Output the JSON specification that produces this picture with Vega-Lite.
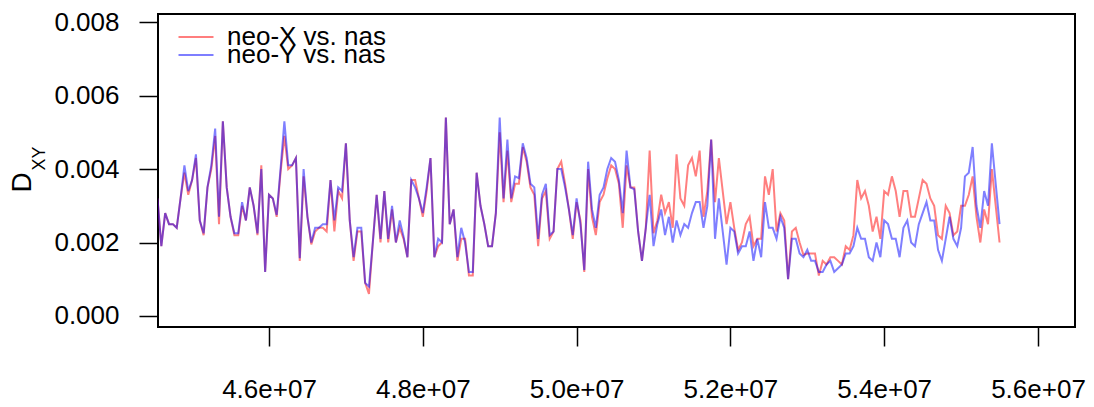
{
  "$schema": "https://vega.github.io/schema/vega-lite/v6.json",
  "width": 917,
  "height": 313,
  "autosize": {"type": "none"},
  "padding": {"left": 158, "top": 14, "right": 19, "bottom": 80},
  "background": "white",
  "config": {
    "font": "Liberation Sans",
    "view": {"stroke": "black", "strokeWidth": 2},
    "axis": {"tickColor": "black", "labelColor": "black", "titleColor": "black", "tickWidth": 1.5, "grid": false, "domain": false, "titleFontWeight": "normal"},
    "legend": {"orient": "none", "direction": "vertical", "title": null, "symbolType": "M-3,0H3", "symbolSize": 136, "symbolStrokeWidth": 2, "symbolOpacity": 0.5, "labelFontSize": 26, "labelOffset": 18, "padding": 0, "labelColor": "black", "labelLimit": 0}
  },
  "data": {"values": [
    {"pos":44550000,"dX":0.0032,"dY":0.0032},
    {"pos":44600000,"dX":0.0019,"dY":0.0019},
    {"pos":44650000,"dX":0.0028,"dY":0.0028},
    {"pos":44700000,"dX":0.0025,"dY":0.0025},
    {"pos":44750000,"dX":0.0025,"dY":0.0025},
    {"pos":44800000,"dX":0.0024,"dY":0.0024},
    {"pos":44850000,"dX":0.0032,"dY":0.0032},
    {"pos":44900000,"dX":0.0039,"dY":0.0041},
    {"pos":44950000,"dX":0.0033,"dY":0.0034},
    {"pos":45000000,"dX":0.0037,"dY":0.0037},
    {"pos":45050000,"dX":0.0043,"dY":0.0044},
    {"pos":45100000,"dX":0.0026,"dY":0.0026},
    {"pos":45150000,"dX":0.0022,"dY":0.00225},
    {"pos":45200000,"dX":0.0035,"dY":0.0035},
    {"pos":45250000,"dX":0.0040,"dY":0.0041},
    {"pos":45300000,"dX":0.0049,"dY":0.0051},
    {"pos":45350000,"dX":0.0025,"dY":0.0027},
    {"pos":45400000,"dX":0.0053,"dY":0.0053},
    {"pos":45450000,"dX":0.0035,"dY":0.0035},
    {"pos":45500000,"dX":0.0027,"dY":0.0027},
    {"pos":45550000,"dX":0.0022,"dY":0.00225},
    {"pos":45600000,"dX":0.0022,"dY":0.00225},
    {"pos":45650000,"dX":0.0030,"dY":0.0031},
    {"pos":45700000,"dX":0.0026,"dY":0.0026},
    {"pos":45750000,"dX":0.0035,"dY":0.0035},
    {"pos":45800000,"dX":0.0030,"dY":0.0030},
    {"pos":45850000,"dX":0.0022,"dY":0.00225},
    {"pos":45900000,"dX":0.0041,"dY":0.0040},
    {"pos":45950000,"dX":0.0012,"dY":0.0012},
    {"pos":46000000,"dX":0.0033,"dY":0.0033},
    {"pos":46050000,"dX":0.0032,"dY":0.0032},
    {"pos":46100000,"dX":0.0027,"dY":0.00275},
    {"pos":46150000,"dX":0.0039,"dY":0.0040},
    {"pos":46200000,"dX":0.0049,"dY":0.0053},
    {"pos":46250000,"dX":0.0040,"dY":0.0041},
    {"pos":46300000,"dX":0.0041,"dY":0.0041},
    {"pos":46350000,"dX":0.0043,"dY":0.0043},
    {"pos":46400000,"dX":0.0015,"dY":0.00157},
    {"pos":46450000,"dX":0.0038,"dY":0.0040},
    {"pos":46500000,"dX":0.0027,"dY":0.0027},
    {"pos":46550000,"dX":0.00195,"dY":0.0020},
    {"pos":46600000,"dX":0.0023,"dY":0.0024},
    {"pos":46650000,"dX":0.0024,"dY":0.0024},
    {"pos":46700000,"dX":0.0024,"dY":0.0025},
    {"pos":46750000,"dX":0.0023,"dY":0.0025},
    {"pos":46800000,"dX":0.0037,"dY":0.0037},
    {"pos":46850000,"dX":0.0023,"dY":0.0026},
    {"pos":46900000,"dX":0.0034,"dY":0.0035},
    {"pos":46950000,"dX":0.0032,"dY":0.0034},
    {"pos":47000000,"dX":0.0047,"dY":0.0047},
    {"pos":47050000,"dX":0.0026,"dY":0.0026},
    {"pos":47100000,"dX":0.0015,"dY":0.0016},
    {"pos":47150000,"dX":0.0023,"dY":0.0024},
    {"pos":47200000,"dX":0.0023,"dY":0.0024},
    {"pos":47250000,"dX":0.0009,"dY":0.0009},
    {"pos":47300000,"dX":0.0006,"dY":0.0008},
    {"pos":47350000,"dX":0.0020,"dY":0.0020},
    {"pos":47400000,"dX":0.0033,"dY":0.0033},
    {"pos":47450000,"dX":0.0020,"dY":0.0021},
    {"pos":47500000,"dX":0.0034,"dY":0.0034},
    {"pos":47550000,"dX":0.0020,"dY":0.0021},
    {"pos":47600000,"dX":0.0029,"dY":0.0030},
    {"pos":47650000,"dX":0.0020,"dY":0.0020},
    {"pos":47700000,"dX":0.0024,"dY":0.0026},
    {"pos":47750000,"dX":0.0021,"dY":0.00216},
    {"pos":47800000,"dX":0.0016,"dY":0.0016},
    {"pos":47850000,"dX":0.0037,"dY":0.0037},
    {"pos":47900000,"dX":0.0037,"dY":0.0035},
    {"pos":47950000,"dX":0.0032,"dY":0.0032},
    {"pos":48000000,"dX":0.0027,"dY":0.0028},
    {"pos":48050000,"dX":0.0034,"dY":0.0035},
    {"pos":48100000,"dX":0.0043,"dY":0.0043},
    {"pos":48150000,"dX":0.0016,"dY":0.0016},
    {"pos":48200000,"dX":0.0019,"dY":0.0021},
    {"pos":48250000,"dX":0.0020,"dY":0.0020},
    {"pos":48300000,"dX":0.0054,"dY":0.0054},
    {"pos":48350000,"dX":0.0025,"dY":0.0025},
    {"pos":48400000,"dX":0.0029,"dY":0.0029},
    {"pos":48450000,"dX":0.0015,"dY":0.0016},
    {"pos":48500000,"dX":0.0021,"dY":0.0024},
    {"pos":48550000,"dX":0.0021,"dY":0.0020},
    {"pos":48600000,"dX":0.0011,"dY":0.0012},
    {"pos":48650000,"dX":0.0011,"dY":0.0012},
    {"pos":48700000,"dX":0.0039,"dY":0.0039},
    {"pos":48750000,"dX":0.0030,"dY":0.0030},
    {"pos":48800000,"dX":0.0025,"dY":0.0025},
    {"pos":48850000,"dX":0.0019,"dY":0.0019},
    {"pos":48900000,"dX":0.0019,"dY":0.0019},
    {"pos":48950000,"dX":0.0028,"dY":0.0028},
    {"pos":49000000,"dX":0.0050,"dY":0.0054},
    {"pos":49050000,"dX":0.0031,"dY":0.0032},
    {"pos":49100000,"dX":0.0045,"dY":0.0048},
    {"pos":49150000,"dX":0.0031,"dY":0.0032},
    {"pos":49200000,"dX":0.0036,"dY":0.0038},
    {"pos":49250000,"dX":0.0036,"dY":0.00375},
    {"pos":49300000,"dX":0.0046,"dY":0.0047},
    {"pos":49350000,"dX":0.0042,"dY":0.0043},
    {"pos":49400000,"dX":0.0035,"dY":0.0036},
    {"pos":49450000,"dX":0.0033,"dY":0.0035},
    {"pos":49500000,"dX":0.0019,"dY":0.0021},
    {"pos":49550000,"dX":0.0032,"dY":0.0033},
    {"pos":49600000,"dX":0.0034,"dY":0.0036},
    {"pos":49650000,"dX":0.0021,"dY":0.0022},
    {"pos":49700000,"dX":0.0023,"dY":0.0023},
    {"pos":49750000,"dX":0.0040,"dY":0.0040},
    {"pos":49800000,"dX":0.0042,"dY":0.0040},
    {"pos":49850000,"dX":0.0036,"dY":0.0035},
    {"pos":49900000,"dX":0.0029,"dY":0.0029},
    {"pos":49950000,"dX":0.0021,"dY":0.0022},
    {"pos":50000000,"dX":0.0031,"dY":0.0032},
    {"pos":50050000,"dX":0.0026,"dY":0.0025},
    {"pos":50100000,"dX":0.0012,"dY":0.00125},
    {"pos":50150000,"dX":0.0040,"dY":0.0042},
    {"pos":50200000,"dX":0.0027,"dY":0.0029},
    {"pos":50250000,"dX":0.0022,"dY":0.0024},
    {"pos":50300000,"dX":0.0031,"dY":0.0033},
    {"pos":50350000,"dX":0.0033,"dY":0.0035},
    {"pos":50400000,"dX":0.00375,"dY":0.0040},
    {"pos":50450000,"dX":0.0041,"dY":0.0043},
    {"pos":50500000,"dX":0.0040,"dY":0.0042},
    {"pos":50550000,"dX":0.0036,"dY":0.0037},
    {"pos":50600000,"dX":0.0024,"dY":0.0028},
    {"pos":50650000,"dX":0.0041,"dY":0.0045},
    {"pos":50700000,"dX":0.0035,"dY":0.0035},
    {"pos":50750000,"dX":0.0035,"dY":0.00345},
    {"pos":50800000,"dX":0.0023,"dY":0.0023},
    {"pos":50850000,"dX":0.0015,"dY":0.0015},
    {"pos":50900000,"dX":0.0024,"dY":0.0024},
    {"pos":50950000,"dX":0.0045,"dY":0.0033},
    {"pos":51000000,"dX":0.00225,"dY":0.0019},
    {"pos":51050000,"dX":0.0026,"dY":0.0025},
    {"pos":51100000,"dX":0.0033,"dY":0.0029},
    {"pos":51150000,"dX":0.0028,"dY":0.0022},
    {"pos":51200000,"dX":0.0031,"dY":0.0027},
    {"pos":51250000,"dX":0.0024,"dY":0.0020},
    {"pos":51300000,"dX":0.0044,"dY":0.0026},
    {"pos":51350000,"dX":0.0032,"dY":0.0022},
    {"pos":51400000,"dX":0.0030,"dY":0.0025},
    {"pos":51450000,"dX":0.0041,"dY":0.0024},
    {"pos":51500000,"dX":0.0043,"dY":0.0028},
    {"pos":51550000,"dX":0.0038,"dY":0.0031},
    {"pos":51600000,"dX":0.0045,"dY":0.0031},
    {"pos":51650000,"dX":0.0027,"dY":0.0024},
    {"pos":51700000,"dX":0.0034,"dY":0.0030},
    {"pos":51750000,"dX":0.0048,"dY":0.0048},
    {"pos":51800000,"dX":0.0031,"dY":0.0021},
    {"pos":51850000,"dX":0.0043,"dY":0.0032},
    {"pos":51900000,"dX":0.0034,"dY":0.0023},
    {"pos":51950000,"dX":0.0025,"dY":0.0014},
    {"pos":52000000,"dX":0.0031,"dY":0.0024},
    {"pos":52050000,"dX":0.0024,"dY":0.0023},
    {"pos":52100000,"dX":0.0018,"dY":0.0017},
    {"pos":52150000,"dX":0.0020,"dY":0.0019},
    {"pos":52200000,"dX":0.0025,"dY":0.0019},
    {"pos":52250000,"dX":0.0027,"dY":0.0023},
    {"pos":52300000,"dX":0.0019,"dY":0.0015},
    {"pos":52350000,"dX":0.0021,"dY":0.0021},
    {"pos":52400000,"dX":0.0021,"dY":0.0016},
    {"pos":52450000,"dX":0.0038,"dY":0.0031},
    {"pos":52500000,"dX":0.0033,"dY":0.0024},
    {"pos":52550000,"dX":0.0040,"dY":0.0024},
    {"pos":52600000,"dX":0.0023,"dY":0.0021},
    {"pos":52650000,"dX":0.0028,"dY":0.0027},
    {"pos":52700000,"dX":0.0026,"dY":0.0024},
    {"pos":52750000,"dX":0.0010,"dY":0.0010},
    {"pos":52800000,"dX":0.0023,"dY":0.0021},
    {"pos":52850000,"dX":0.0024,"dY":0.0021},
    {"pos":52900000,"dX":0.0020,"dY":0.0017},
    {"pos":52950000,"dX":0.00166,"dY":0.0016},
    {"pos":53000000,"dX":0.0017,"dY":0.0018},
    {"pos":53050000,"dX":0.0017,"dY":0.0015},
    {"pos":53100000,"dX":0.0017,"dY":0.0015},
    {"pos":53150000,"dX":0.0011,"dY":0.0012},
    {"pos":53200000,"dX":0.0015,"dY":0.0012},
    {"pos":53250000,"dX":0.0014,"dY":0.0014},
    {"pos":53300000,"dX":0.0016,"dY":0.0015},
    {"pos":53350000,"dX":0.0016,"dY":0.0012},
    {"pos":53400000,"dX":0.0015,"dY":0.0013},
    {"pos":53450000,"dX":0.0014,"dY":0.0014},
    {"pos":53500000,"dX":0.0019,"dY":0.0017},
    {"pos":53550000,"dX":0.0018,"dY":0.0017},
    {"pos":53600000,"dX":0.0022,"dY":0.0019},
    {"pos":53650000,"dX":0.0037,"dY":0.0024},
    {"pos":53700000,"dX":0.0032,"dY":0.0021},
    {"pos":53750000,"dX":0.0034,"dY":0.0021},
    {"pos":53800000,"dX":0.0030,"dY":0.0016},
    {"pos":53850000,"dX":0.0023,"dY":0.0015},
    {"pos":53900000,"dX":0.0027,"dY":0.0020},
    {"pos":53950000,"dX":0.0021,"dY":0.0016},
    {"pos":54000000,"dX":0.0034,"dY":0.0026},
    {"pos":54050000,"dX":0.0033,"dY":0.0025},
    {"pos":54100000,"dX":0.0038,"dY":0.0021},
    {"pos":54150000,"dX":0.0034,"dY":0.0021},
    {"pos":54200000,"dX":0.0027,"dY":0.0016},
    {"pos":54250000,"dX":0.0034,"dY":0.0024},
    {"pos":54300000,"dX":0.0034,"dY":0.0026},
    {"pos":54350000,"dX":0.0027,"dY":0.0020},
    {"pos":54400000,"dX":0.0027,"dY":0.0019},
    {"pos":54450000,"dX":0.0032,"dY":0.0025},
    {"pos":54500000,"dX":0.0037,"dY":0.0028},
    {"pos":54550000,"dX":0.0036,"dY":0.0031},
    {"pos":54600000,"dX":0.0032,"dY":0.0026},
    {"pos":54650000,"dX":0.0030,"dY":0.0026},
    {"pos":54700000,"dX":0.0022,"dY":0.0018},
    {"pos":54750000,"dX":0.0021,"dY":0.0015},
    {"pos":54800000,"dX":0.0030,"dY":0.0021},
    {"pos":54850000,"dX":0.0028,"dY":0.0027},
    {"pos":54900000,"dX":0.0022,"dY":0.0021},
    {"pos":54950000,"dX":0.0023,"dY":0.0019},
    {"pos":55000000,"dX":0.0030,"dY":0.0024},
    {"pos":55050000,"dX":0.0030,"dY":0.0038},
    {"pos":55100000,"dX":0.0033,"dY":0.0039},
    {"pos":55150000,"dX":0.0038,"dY":0.0046},
    {"pos":55200000,"dX":0.0027,"dY":0.0030},
    {"pos":55250000,"dX":0.0020,"dY":0.0024},
    {"pos":55300000,"dX":0.0029,"dY":0.0034},
    {"pos":55350000,"dX":0.0025,"dY":0.0030},
    {"pos":55400000,"dX":0.0040,"dY":0.0047},
    {"pos":55450000,"dX":0.0030,"dY":0.0036},
    {"pos":55500000,"dX":0.0020,"dY":0.0025}
  ]},
  "encoding": {
    "x": {
      "field": "pos", "type": "quantitative",
      "scale": {"domain": [44556600, 56481100], "nice": false, "zero": false},
      "axis": {
        "title": null,
        "values": [46000000, 48000000, 50000000, 52000000, 54000000, 56000000],
        "labelExpr": "replace(format(datum.value, '.1e'), 'e+', 'e+0')",
        "tickSize": 19, "labelPadding": 30, "labelFontSize": 26,
        "labelFlush": false, "labelOverlap": false
      }
    }
  },
  "layer": [
    {
      "mark": {"type": "line", "clip": true, "strokeWidth": 2, "opacity": 0.5},
      "encoding": {
        "y": {
          "field": "dX", "type": "quantitative",
          "scale": {"domain": [-0.0003, 0.00822], "nice": false, "zero": false},
          "axis": {
            "values": [0, 0.002, 0.004, 0.006, 0.008], "format": ".3f",
            "tickSize": 19, "labelPadding": 20, "labelFontSize": 26,
            "title": "D", "titleFontSize": 28, "titleAngle": -90,
            "titleX": -136, "titleY": 168, "titleAlign": "center", "titleBaseline": "middle"
          }
        },
        "color": {
          "datum": "neo-X vs. nas", "type": "nominal",
          "scale": {"domain": ["neo-X vs. nas"], "range": ["#FF0000"]},
          "legend": {"legendX": 25, "legendY": 10}
        }
      }
    },
    {
      "mark": {"type": "line", "clip": true, "strokeWidth": 2, "opacity": 0.5},
      "encoding": {
        "y": {
          "field": "dY", "type": "quantitative",
          "scale": {"domain": [-0.0003, 0.00822], "nice": false, "zero": false},
          "axis": {
            "orient": "right", "labels": false, "ticks": false, "domain": false,
            "title": "XY", "titleFontSize": 18, "titleAngle": -90,
            "titleX": -1036, "titleY": 144, "titleAlign": "center", "titleBaseline": "middle"
          }
        },
        "color": {
          "datum": "neo-Y vs. nas", "type": "nominal",
          "scale": {"domain": ["neo-Y vs. nas"], "range": ["#0000FF"]},
          "legend": {"legendX": 25, "legendY": 28}
        }
      }
    }
  ],
  "resolve": {"scale": {"y": "independent", "color": "independent"}}
}
